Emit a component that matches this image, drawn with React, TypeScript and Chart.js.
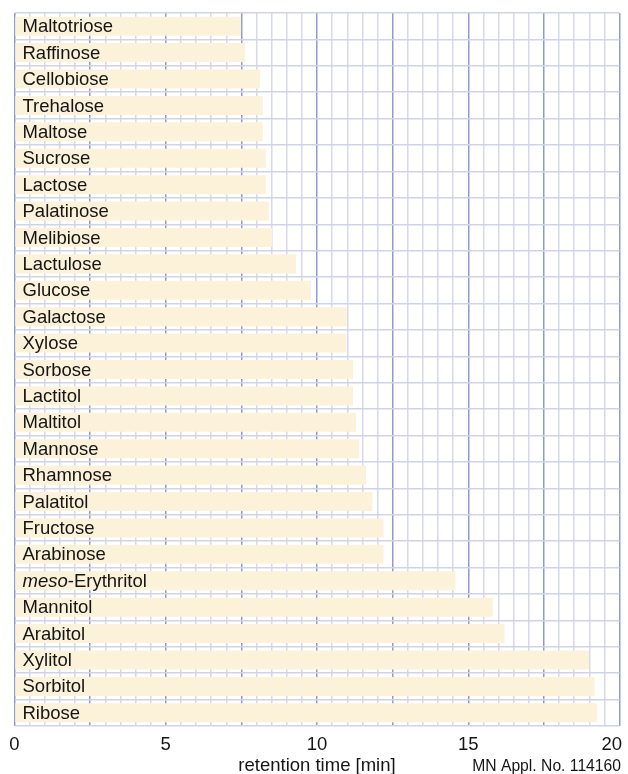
import React, { useEffect, useRef } from "react";
import { Chart, registerables } from "chart.js";

Chart.register(...registerables);

const sugars = [
  "Maltotriose", "Raffinose", "Cellobiose", "Trehalose", "Maltose", "Sucrose",
  "Lactose", "Palatinose", "Melibiose", "Lactulose", "Glucose", "Galactose",
  "Xylose", "Sorbose", "Lactitol", "Maltitol", "Mannose", "Rhamnose",
  "Palatitol", "Fructose", "Arabinose", "meso-Erythritol", "Mannitol",
  "Arabitol", "Xylitol", "Sorbitol", "Ribose",
];

const retentionTimes = [
  7.49, 7.62, 8.12, 8.21, 8.21, 8.31,
  8.31, 8.41, 8.52, 9.31, 9.8, 10.98,
  10.97, 11.19, 11.19, 11.29, 11.4, 11.62,
  11.83, 12.2, 12.2, 14.58, 15.81,
  16.2, 18.99, 19.18, 19.26,
];

const xTickLabels = [0, 5, 10, 15, 20];
const xAxisTitle = "retention time [min]";
const noteText = "MN Appl. No. 114160";

const FONT = "'Liberation Sans', Arial, Helvetica, sans-serif";

const overlayPlugin = {
  id: "overlay",
  afterDatasetsDraw(chart: any) {
    const { ctx, scales } = chart;
    const x = scales.x;
    const y = scales.y;
    ctx.save();
    ctx.fillStyle = "#151515";
    ctx.textBaseline = "middle";
    ctx.textAlign = "left";
    const x0 = x.getPixelForValue(0) + 8;
    sugars.forEach((name, i) => {
      const py = y.getPixelForValue(i) + 1;
      if (name.startsWith("meso-")) {
        ctx.font = `italic 18.5px ${FONT}`;
        ctx.fillText("meso", x0, py);
        const w = ctx.measureText("meso").width;
        ctx.font = `18.5px ${FONT}`;
        ctx.fillText(name.slice(4), x0 + w, py);
      } else {
        ctx.font = `18.5px ${FONT}`;
        ctx.fillText(name, x0, py);
      }
    });
    ctx.restore();
  },
  afterDraw(chart: any) {
    const { ctx, scales, chartArea, width } = chart;
    const x = scales.x;
    ctx.save();
    ctx.fillStyle = "#151515";
    ctx.textBaseline = "alphabetic";
    ctx.font = `18.5px ${FONT}`;
    ctx.textAlign = "center";
    xTickLabels.forEach((v) => {
      const s = String(v);
      const w = ctx.measureText(s).width;
      let px = x.getPixelForValue(v);
      px = Math.min(px, width - 6 - w / 2);
      px = Math.max(px, w / 2 + 2);
      ctx.fillText(s, px, 750);
    });
    ctx.fillText(xAxisTitle, (chartArea.left + chartArea.right) / 2, 771);
    ctx.font = `15.7px ${FONT}`;
    ctx.textAlign = "right";
    ctx.fillText(noteText, 621, 771);
    ctx.restore();
  },
};

export default function App() {
  const ref = useRef<HTMLCanvasElement>(null);
  useEffect(() => {
    if (!ref.current) return;
    const chart = new Chart(ref.current, {
      type: "bar",
      data: {
        labels: sugars,
        datasets: [
          {
            data: retentionTimes,
            backgroundColor: "#fcf2da",
            borderWidth: 0,
            barPercentage: 0.72,
            categoryPercentage: 1,
          },
        ],
      },
      options: {
        indexAxis: "y",
        animation: false,
        responsive: false,
        devicePixelRatio: 1,
        layout: { padding: { left: 14.5, right: 8.5, top: 13, bottom: 48 } },
        plugins: {
          legend: { display: false },
          tooltip: { enabled: false },
        },
        scales: {
          x: {
            type: "linear",
            min: 0,
            max: 20,
            ticks: { display: false, stepSize: 0.5 },
            grid: {
              drawTicks: false,
              lineWidth: 1.5,
              color: (c: any) =>
                Math.abs(c.tick.value / 2.5 - Math.round(c.tick.value / 2.5)) < 1e-6
                  ? "#8f9bcb"
                  : "#d6d8ec",
            },
            border: { display: false },
          },
          y: {
            type: "category",
            ticks: { display: false },
            grid: {
              offset: true,
              drawTicks: false,
              lineWidth: 1.5,
              color: "#d0d3e8",
            },
            border: { display: false },
          },
        },
      },
      plugins: [overlayPlugin],
    });
    return () => chart.destroy();
  }, []);
  return (
    <div style={{ position: "absolute", left: 0, top: 0, width: 628, height: 774 }}>
      <canvas ref={ref} width={628} height={774} />
    </div>
  );
}
